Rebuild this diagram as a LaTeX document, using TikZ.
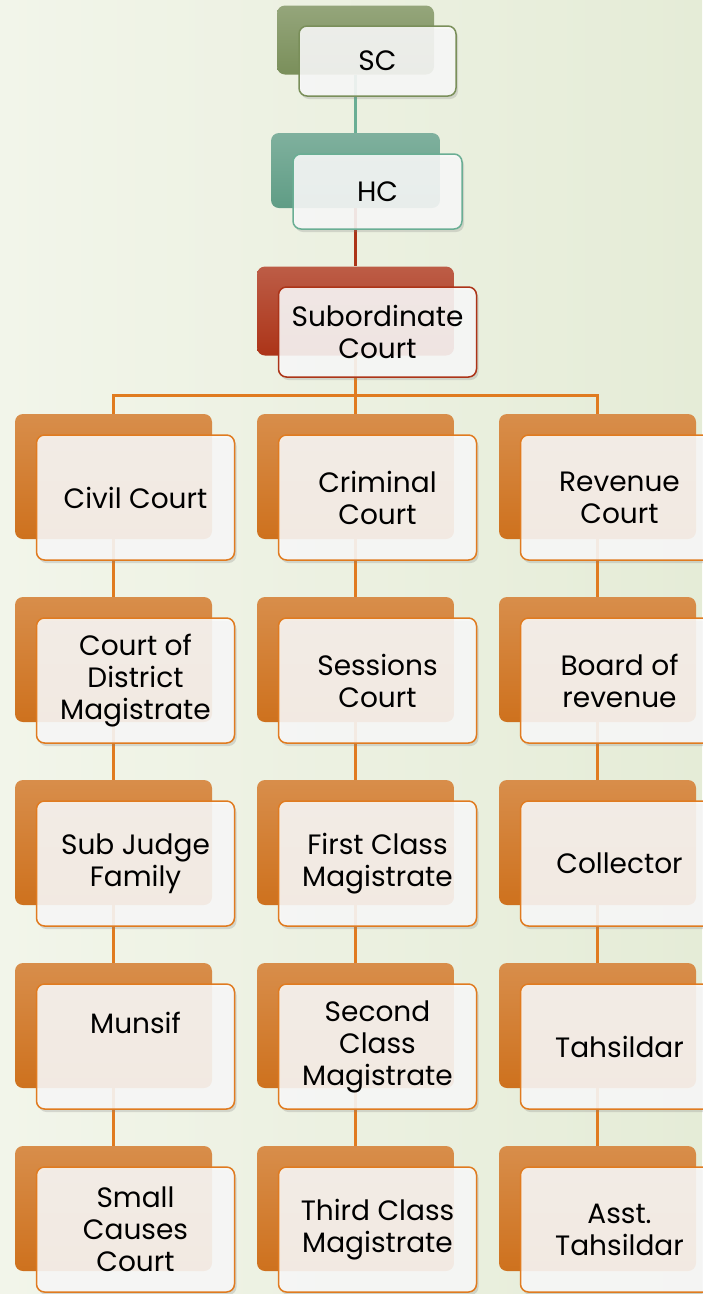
\documentclass[tikz,border=0pt]{standalone}
\usepackage{fontspec}
\setmainfont{Poppins}
\usetikzlibrary{positioning}
\usetikzlibrary{backgrounds}
\usetikzlibrary{shadows}
\usepackage{xcolor}

\definecolor{bgleft}{HTML}{F2F5EA}
\definecolor{bgright}{HTML}{E5ECD7}
\definecolor{scgreen}{HTML}{7A8F5A}
\definecolor{hcteal}{HTML}{6AAE94}
\definecolor{subred}{HTML}{AC3418}
\definecolor{courtorange}{HTML}{E07B20}

\pgfdeclarelayer{lines}
\pgfdeclarelayer{back}
\pgfsetlayers{background,lines,back,main}

\begin{document}
\begin{tikzpicture}[x=1pt, y=-1pt, node distance=58pt and 44pt,
    font=\fontsize{28}{32}\selectfont,
    front/.style={draw=courtorange, line width=1.5pt, rounded corners=8pt, outer sep=0pt,
        fill=white!98!black, fill opacity=0.88, text opacity=1, align=center,
        minimum width=198pt, minimum height=125pt, inner sep=2pt,
        drop shadow={opacity=0.25, shadow xshift=2pt, shadow yshift=-3pt}},
    back/.style={rounded corners=8pt, minimum width=197pt, minimum height=125pt,
        top color=#1!80!white, bottom color=#1},
    back/.default=courtorange!92!black,
    link/.style={line width=3pt, draw=courtorange}]

    \useasboundingbox (0,0) rectangle (702,1294);
    \begin{pgfonlayer}{background}
        \fill[left color=bgleft, right color=bgright] (0,0) rectangle (702,1294);
    \end{pgfonlayer}

    % top of the chain
    \node[front, draw=scgreen, minimum width=157pt, minimum height=70pt] (sc) at (377.5,61) {SC};
    \node[front, draw=hcteal, minimum width=169pt, minimum height=75pt, below=58pt of sc] (hc) {HC};
    \node[front, draw=subred, minimum width=198pt, minimum height=90pt, below=58pt of hc] (sub) {Subordinate\\Court};

    % the three branches
    \node[front, below=of sub] (crim) {Criminal\\Court};
    \node[front, left=of crim] (civil) {Civil Court};
    \node[front, right=of crim] (rev) {Revenue\\Court};

    \node[front, below=of civil] (dist) {Court of\\District\\Magistrate};
    \node[front, below=of dist] (subj) {Sub Judge\\Family};
    \node[front, below=of subj] (munsif) {Munsif\\[6pt]\strut};
    \node[front, below=of munsif] (small) {Small\\Causes\\Court};

    \node[front, below=of crim] (sess) {Sessions\\Court};
    \node[front, below=of sess] (first) {First Class\\Magistrate};
    \node[front, below=of first] (second) {Second\\Class\\Magistrate};
    \node[front, below=of second] (third) {Third Class\\Magistrate};

    \node[front, below=of rev] (board) {Board of\\revenue};
    \node[front, below=of board] (coll) {Collector};
    \node[front, below=of coll] (tah) {Tahsildar};
    \node[front, below=of tah] (asst) {Asst.\\Tahsildar};

    % coloured cards behind
    \begin{pgfonlayer}{back}
        \node[back=scgreen, minimum width=157pt, minimum height=69pt] (sc-b) at ([shift={(-22,-21)}]sc) {};
        \node[back=hcteal!90!black, minimum width=169pt, minimum height=75pt] (hc-b) at ([shift={(-22,-21)}]hc) {};
        \node[back=subred, minimum width=197pt, minimum height=89pt] (sub-b) at ([shift={(-22,-21)}]sub) {};
        \foreach \n in {civil,dist,subj,munsif,small,crim,sess,first,second,third,rev,board,coll,tah,asst}
            \node[back] (\n-b) at ([shift={(-22,-21)}]\n) {};
    \end{pgfonlayer}

    % connectors
    \begin{pgfonlayer}{lines}
        \coordinate (split) at ([yshift=-40pt]sub-b.south);
        \draw[link, draw=hcteal] (sc-b) -- (hc-b);
        \draw[link, draw=subred] (hc-b) -- (sub-b);
        \draw[link] (sub-b) -- (split);
        \draw[link] (split) -| (civil-b);
        \draw[link] (split) -| (rev-b);
        \draw[link] (split) -- (crim-b);
        \foreach \a/\b in {civil/dist, dist/subj, subj/munsif, munsif/small,
                crim/sess, sess/first, first/second, second/third,
                rev/board, board/coll, coll/tah, tah/asst}
            \draw[link] (\a-b) -- (\b-b);
    \end{pgfonlayer}
\end{tikzpicture}
\end{document}
